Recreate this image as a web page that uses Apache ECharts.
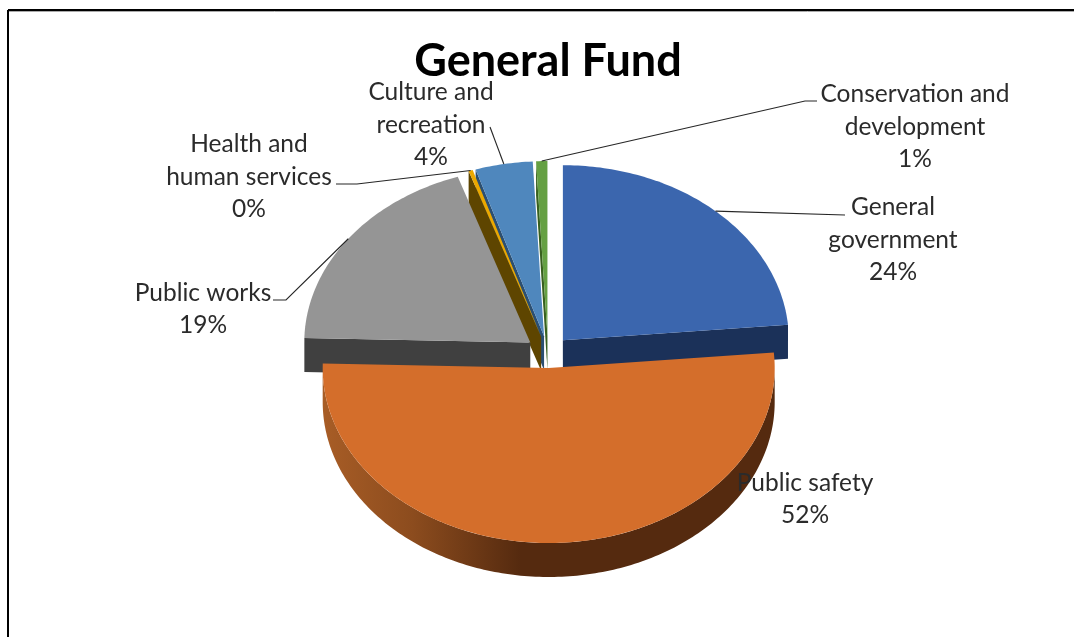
<!DOCTYPE html>
<html>
<head>
<meta charset="utf-8">
<title>General Fund</title>
<style>html,body{margin:0;padding:0;background:#fff}#chart{width:1074px;height:637px}</style>
<script src="https://cdn.jsdelivr.net/npm/echarts@6/dist/echarts.min.js"></script>
</head>
<body>
<div id="chart"></div>
<script>
// Budget shares of the General Fund, clockwise from twelve o'clock.
const categories = ['General\ngovernment', 'Public safety', 'Public works', 'Health and\nhuman services', 'Culture and\nrecreation', 'Conservation and\ndevelopment'];
const values = [23.6, 51.8, 19.4, 0.3, 4.1, 0.8];
const topColors = ['#3b66ae', '#d46e2b', '#959595', '#eba800', '#4f87bd', '#65a043'];
const wallColors = ['#1b3159', '#552a0f', '#404040', '#5e4500', '#2b4f72', '#38601f'];

// Label anchors and elbows of the leader lines.
const labelCentres = [[893, 240], [805, 499], [203, 309], [249, 177], [431, 125], [915, 127]];
const leaderPaths = [
  [[845, 215]],
  null,
  [[286, 300], [273, 300]],
  [[357, 184], [336, 184]],
  [[490, 127]],
  [[805, 101], [817, 101]]
];

// Projected pie geometry.
const centre = [548, 352];
const radius = [226, 175];
const explode = [22, 16];
const depth = 34;

const total = values.reduce((a, b) => a + b, 0);
const spans = [];
values.reduce((from, v) => {
  const to = from + v / total * Math.PI * 2;
  spans.push([from, to]);
  return to;
}, 0);

function renderSlice(params, api) {
  const i = api.value(0);
  const [a0, a1] = spans[i];
  const mid = (a0 + a1) / 2;
  const ox = centre[0] + explode[0] * Math.sin(mid);
  const oy = centre[1] - explode[1] * Math.cos(mid);
  const rim = a => [ox + radius[0] * Math.sin(a), oy - radius[1] * Math.cos(a)];
  const down = p => [p[0], p[1] + depth];
  const z2 = Math.round((1 - Math.cos(mid)) * 100);
  const arc = (from, to) => {
    const n = Math.max(2, Math.ceil((to - from) * 60));
    const pts = [];
    for (let k = 0; k <= n; k++) pts.push(rim(from + (to - from) * k / n));
    return pts;
  };
  const children = [];
  const wall = (pts, fill) => children.push({ type: 'polygon', z2, shape: { points: pts }, style: { fill } });

  // Radial walls that face the viewer.
  const radial = a => {
    const p = rim(a);
    wall([p, [ox, oy], down([ox, oy]), down(p)], wallColors[i]);
  };
  if (Math.sin(a0) < 0) radial(a0);
  if (Math.sin(a1) > 0) radial(a1);

  // Curved outer wall on the front half of the rim.
  const f0 = Math.max(a0, Math.PI / 2), f1 = Math.min(a1, Math.PI * 1.5);
  if (f1 > f0) {
    const top = arc(f0, f1);
    const l = centre[0] - radius[0], w = radius[0] * 2;
    wall(top.concat(top.map(down).reverse()), {
      type: 'linear', global: true, x: l, y: 0, x2: l + w, y2: 0,
      colorStops: [
        { offset: 0, color: '#a85d26' },
        { offset: 0.2, color: '#8c4c1e' },
        { offset: 0.44, color: wallColors[i] },
        { offset: 1, color: wallColors[i] }
      ]
    });
  }

  // Top face of the slice.
  children.push({
    type: 'polygon', z2,
    shape: { points: [[ox, oy]].concat(arc(a0, a1)) },
    style: { fill: topColors[i] }
  });

  // Leader line from the rim at the slice's mid-angle out to the label.
  if (leaderPaths[i]) {
    children.push({
      type: 'polyline', z2: 900,
      shape: { points: [rim(mid)].concat(leaderPaths[i]) },
      style: { fill: 'none', stroke: '#262626', lineWidth: 1.1 }
    });
  }

  // Category name and rounded share.
  children.push({
    type: 'text', z2: 1000,
    style: {
      text: categories[i] + '\n' + Math.round(values[i] / total * 100) + '%',
      x: labelCentres[i][0], y: labelCentres[i][1],
      align: 'center', verticalAlign: 'middle',
      fontFamily: 'Lato', fontSize: 24.5, lineHeight: 32.5, fill: '#2b2b2b'
    }
  });
  return { type: 'group', children };
}

const chart = echarts.init(document.getElementById('chart'), null, { renderer: 'canvas' });
chart.setOption({
  animation: false,
  backgroundColor: '#ffffff',
  title: {
    text: 'General Fund', left: 543, top: 34, textAlign: 'center',
    textStyle: { fontFamily: 'Lato', fontWeight: 'bold', fontSize: 45, color: '#000000' }
  },
  graphic: [
    { type: 'line', shape: { x1: 8, y1: 11.5, x2: 1074, y2: 11.5 }, style: { stroke: '#aaaaaa', lineWidth: 1 } },
    { type: 'line', shape: { x1: 8, y1: 10, x2: 1074, y2: 10 }, style: { stroke: '#000000', lineWidth: 2 } },
    { type: 'line', shape: { x1: 8, y1: 10, x2: 8, y2: 637 }, style: { stroke: '#000000', lineWidth: 2 } }
  ],
  series: [{
    type: 'custom',
    coordinateSystem: 'none',
    data: values.map((v, i) => [i, v]),
    renderItem: renderSlice
  }]
});
</script>
</body>
</html>
